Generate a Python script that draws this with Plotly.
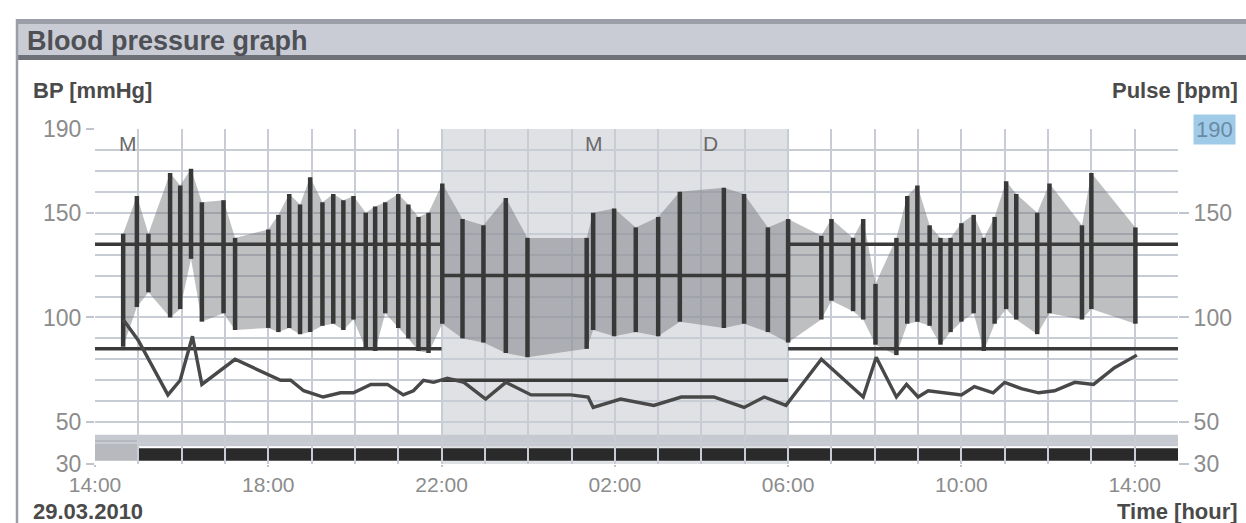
import plotly.graph_objects as go
from datetime import datetime, timedelta

# ---------------- data ----------------
bp_times = ["14:39", "14:58", "15:14", "15:44", "15:58", "16:13", "16:28", "16:58", "17:14",
            "18:00", "18:14", "18:29", "18:44", "18:58", "19:15", "19:30", "19:44", "19:58",
            "20:15", "20:28", "20:42", "21:00", "21:14", "21:28", "21:42", "22:01", "22:29",
            "22:58", "23:29", "23:59", "01:21", "01:30", "01:59", "02:29", "03:00", "03:30",
            "04:31", "04:59", "05:32", "06:00", "06:46", "07:00", "07:30", "07:44", "08:01",
            "08:30", "08:45", "08:59", "09:16", "09:31", "09:45", "10:00", "10:17", "10:31",
            "10:46", "11:02", "11:16", "11:45", "12:02", "12:47", "13:00", "14:01"]
systolic = [140, 158, 140, 169, 163, 171, 155, 156, 138,
            142, 149, 159, 154, 167, 155, 159, 156, 158,
            150, 153, 155, 159, 154, 148, 150, 164, 147,
            144, 157, 138, 138, 150, 152, 143, 148, 160,
            162, 159, 143, 147, 139, 147, 138, 147, 116,
            138, 158, 163, 144, 138, 138, 145, 149, 138,
            148, 165, 159, 150, 164, 144, 169, 143]
diastolic = [86, 105, 112, 100, 104, 128, 98, 102, 94,
             95, 93, 95, 92, 93, 96, 97, 94, 99,
             85, 84, 102, 95, 90, 84, 83, 97, 90,
             88, 83, 81, 85, 94, 91, 93, 91, 98,
             95, 97, 93, 88, 99, 108, 103, 99, 87,
             82, 97, 98, 96, 87, 93, 98, 102, 84,
             97, 104, 99, 92, 102, 99, 104, 97]

pulse_times = ["14:39", "15:00", "15:41", "15:58", "16:15", "16:28", "17:14", "17:39", "18:17", "18:31",
               "18:49", "19:16", "19:40", "19:58", "20:22", "20:45", "21:07", "21:21", "21:35", "21:49",
               "22:08", "22:31", "23:01", "23:29", "00:04", "00:59", "01:23", "01:30", "02:08", "02:54",
               "03:32", "04:17", "04:59", "05:27", "05:57", "06:46", "07:44", "08:02", "08:30", "08:44",
               "09:00", "09:14", "09:42", "10:00", "10:18", "10:44", "11:00", "11:23", "11:47", "12:09",
               "12:37", "13:03", "13:32", "14:03"]
pulse = [99, 89, 63, 70, 91, 68, 80, 76, 70, 70,
         65, 62, 64, 64, 68, 68, 63, 65, 70, 69,
         71, 69, 61, 69, 63, 63, 62, 57, 61, 58,
         62, 62, 57, 62, 58, 80, 62, 81, 62, 68,
         62, 65, 64, 63, 67, 64, 69, 66, 64, 65,
         69, 68, 76, 82]

event_times = ["14:46", "01:31", "04:13"]
event_labels = ["M", "M", "D"]
event_level = 183

day_limits = [135, 85]
night_limits = [120, 70]

period_times = ["14:00", "15:00", "22:00", "06:00", "15:00"]   # start, activity start, night start, night end, end
x_tick_times = ["14:00", "18:00", "22:00", "02:00", "06:00", "10:00", "14:00"]
y_left_ticks = [30, 50, 100, 150, 190]
y_right_ticks = [30, 50, 100, 150]
y_range = [30, 190]
date_label = "29.03.2010"


def seq_dt(times):
    out, prev, day = [], None, 0
    for t in times:
        h, m = map(int, t.split(":"))
        d = datetime(2010, 3, 29, h, m) + timedelta(days=day)
        if prev is not None and d < prev:
            day += 1
            d += timedelta(days=1)
        out.append(d)
        prev = d
    return out


bp_x = seq_dt(bp_times)
pulse_x = seq_dt(pulse_times)
ev_x = seq_dt(event_times)
t_start, t_act, t_night0, t_night1, t_end = seq_dt(period_times)
tick_x = seq_dt(x_tick_times)

# pixel -> paper helpers (layout only)
L, R, T, B = 95, 1178, 129, 464
def pxx(p): return (p - L) / (R - L)
def pxy(p): return (B - p) / (B - T)

GRID = "#c8ccd4"
fig = go.Figure()

# envelope fill between diastolic and systolic
fig.add_trace(go.Scatter(x=bp_x, y=diastolic, mode="lines", line=dict(width=0),
                         hoverinfo="skip"))
fig.add_trace(go.Scatter(x=bp_x, y=systolic, mode="lines", line=dict(width=0),
                         fill="tonexty", fillcolor="rgba(110,112,118,0.45)", hoverinfo="skip"))

# threshold lines
for xs, lims in [((t_start, t_night0), day_limits), ((t_night0, t_night1), night_limits),
                 ((t_night1, t_end), day_limits)]:
    for v in lims:
        fig.add_trace(go.Scatter(x=list(xs), y=[v, v], mode="lines",
                                 line=dict(color="#3a3a3a", width=3.5), hoverinfo="skip"))

# vertical BP bars
bx, by = [], []
for t, s, d in zip(bp_x, systolic, diastolic):
    bx += [t, t, None]
    by += [d, s, None]
fig.add_trace(go.Scatter(x=bx, y=by, mode="lines", line=dict(color="#383838", width=4.5),
                         hoverinfo="skip"))

# pulse line
fig.add_trace(go.Scatter(x=pulse_x, y=pulse, mode="lines", yaxis="y2",
                         line=dict(color="#484848", width=3.4)))

shapes = [
    dict(type="rect", xref="x", yref="y", x0=t_night0, x1=t_night1, y0=y_range[0], y1=y_range[1],
         fillcolor="#e0e1e5", line=dict(width=0), layer="below"),
    dict(type="rect", xref="x", yref="y", x0=t_start, x1=t_end, y0=38.5, y1=44,
         fillcolor="#c6c9cf", line=dict(width=0), layer="below"),
    dict(type="rect", xref="x", yref="y", x0=t_start, x1=t_act, y0=31.5, y1=41.5,
         fillcolor="#b7b9be", line=dict(width=0), layer="below"),
    dict(type="rect", xref="x", yref="y", x0=t_act, x1=t_end, y0=31.5, y1=37.5,
         fillcolor="#2a2a2a", line=dict(width=0), layer="below"),
    # header bar
    dict(type="rect", xref="paper", yref="paper", x0=pxx(17), x1=pxx(1250), y0=pxy(57), y1=pxy(21),
         fillcolor="#c9ccd4", line=dict(width=0)),
    dict(type="rect", xref="paper", yref="paper", x0=pxx(17), x1=pxx(1250), y0=pxy(24), y1=pxy(19),
         fillcolor="#9a9ea6", line=dict(width=0)),
    dict(type="rect", xref="paper", yref="paper", x0=pxx(17), x1=pxx(1250), y0=pxy(60), y1=pxy(55),
         fillcolor="#6e7278", line=dict(width=0)),
    dict(type="line", xref="paper", yref="paper", x0=pxx(17), x1=pxx(17), y0=pxy(530), y1=pxy(19),
         line=dict(color="#9a9ea6", width=2.5)),
]

lab = dict(color="#4a4a4a", size=22)
annotations = [
    dict(text="<b>Blood pressure graph</b>", xref="paper", yref="paper", x=pxx(25), y=pxy(41),
         xanchor="left", yanchor="middle", showarrow=False, font=dict(color="#4e5056", size=27)),
    dict(text="<b>BP [mmHg]</b>", xref="paper", yref="paper", x=pxx(31), y=pxy(91),
         xanchor="left", yanchor="middle", showarrow=False, font=lab),
    dict(text="<b>Pulse [bpm]</b>", xref="paper", yref="paper", x=pxx(1240), y=pxy(91),
         xanchor="right", yanchor="middle", showarrow=False, font=lab),
    dict(text="<b>" + date_label + "</b>", xref="paper", yref="paper", x=pxx(31), y=pxy(511),
         xanchor="left", yanchor="middle", showarrow=False, font=lab),
    dict(text="<b>Time [hour]</b>", xref="paper", yref="paper", x=pxx(1240), y=pxy(511),
         xanchor="right", yanchor="middle", showarrow=False, font=lab),
    dict(text=str(y_range[1]), xref="paper", yref="y2", x=pxx(1193), y=y_range[1],
         xanchor="left", yanchor="middle", showarrow=False, bgcolor="#9fcbe9",
         font=dict(color="#6a8aa4", size=22), borderpad=2),
]
for t, s in zip(ev_x, event_labels):
    annotations.append(dict(text=s, xref="x", yref="y", x=t, y=event_level, showarrow=False,
                            font=dict(color="#6a6a6a", size=21)))

tickfont = dict(color="#8c8c8c", size=23)
fig.update_layout(
    width=1246, height=523, margin=dict(l=L, r=1246 - R, t=T, b=523 - B),
    plot_bgcolor="white", paper_bgcolor="white", showlegend=False,
    font=dict(family="Liberation Sans, Arial, sans-serif"),
    shapes=shapes, annotations=annotations,
    xaxis=dict(type="date", range=[t_start, t_end], tickvals=tick_x, ticktext=x_tick_times,
               showgrid=True, gridcolor=GRID, gridwidth=2,
               minor=dict(dtick=3600000, tick0=t_start, showgrid=True, gridcolor=GRID, gridwidth=2),
               ticks="outside", ticklen=2, tickcolor="#c0c4cc", tickwidth=2,
               tickfont=dict(color="#8c8c8c", size=21), zeroline=False, showline=False),
    yaxis=dict(range=y_range, tickvals=y_left_ticks, showgrid=True, gridcolor=GRID, gridwidth=2,
               minor=dict(tick0=30, dtick=10, showgrid=True, gridcolor=GRID, gridwidth=2),
               ticks="outside", ticklen=8, tickcolor="#c0c4cc", tickwidth=2,
               tickfont=tickfont, zeroline=False, showline=False),
    yaxis2=dict(range=y_range, overlaying="y", side="right", tickvals=y_right_ticks,
                showgrid=False, ticks="outside", ticklen=10, tickcolor="#c0c4cc", tickwidth=2,
                tickfont=tickfont, zeroline=False, showline=False),
)

fig.write_html("out.html", config={"displayModeBar": False},
               post_script="document.body.style.margin='0px';document.body.style.overflow='hidden';")
